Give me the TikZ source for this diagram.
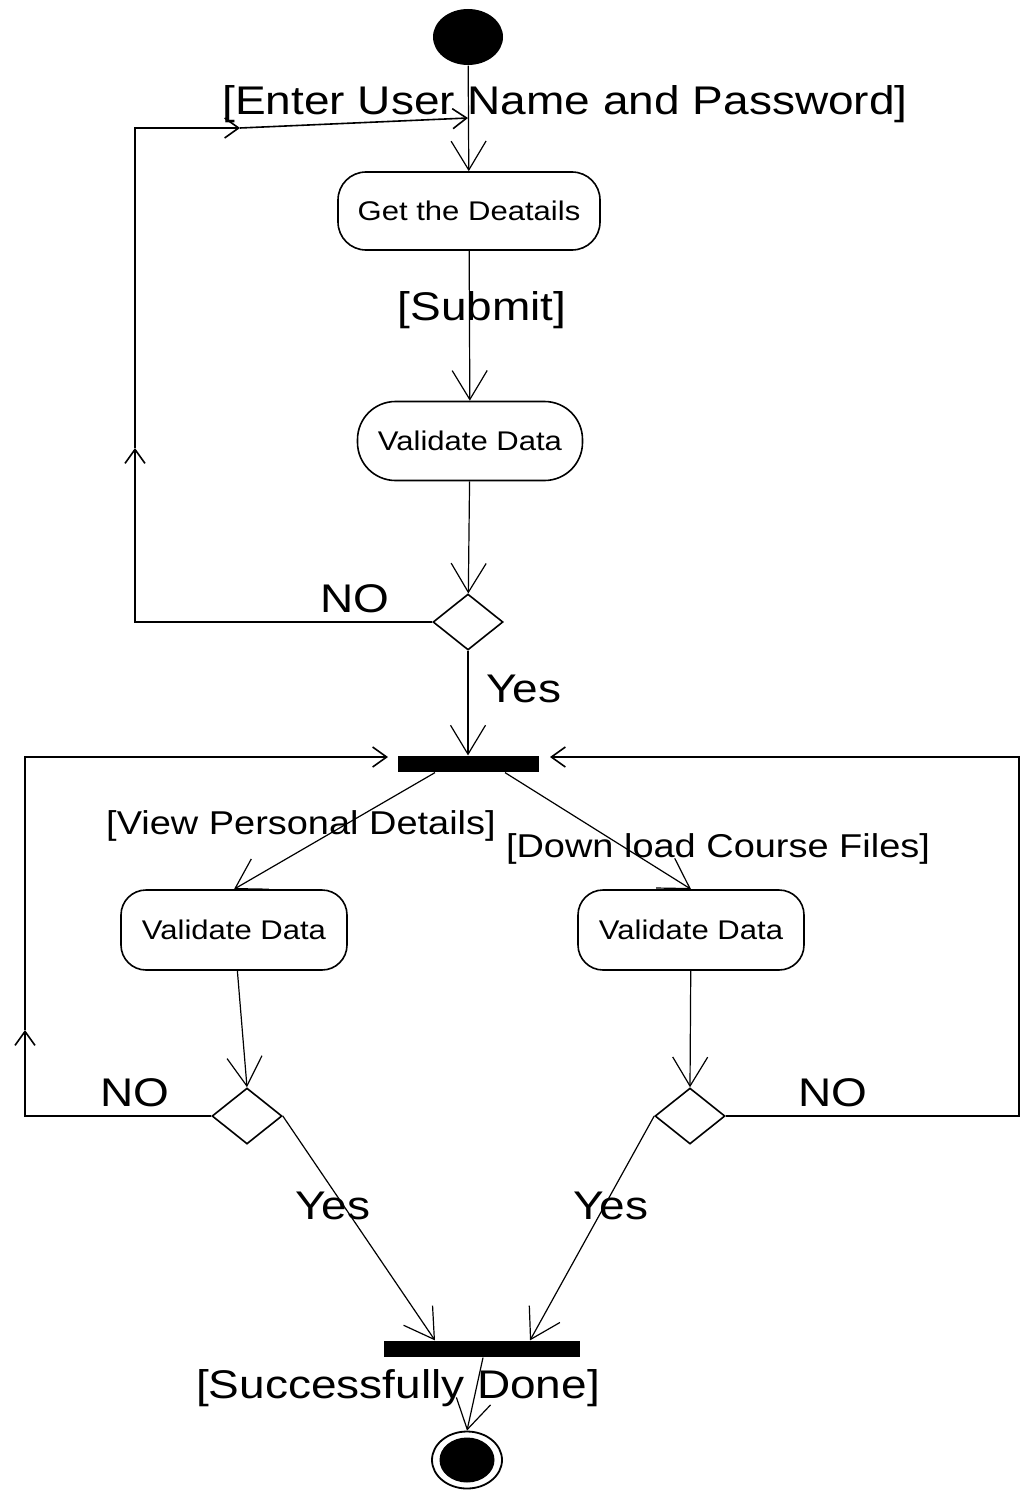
\documentclass[tikz,border=0pt]{standalone}
\usepackage{fontspec}
\setmainfont{Liberation Sans}
\usepackage{graphicx}
\usetikzlibrary{arrows.meta,shapes.geometric}
\newcommand{\wide}[1]{\scalebox{1.15}[1]{#1}}
\tikzset{>={Straight Barb[length=29pt,width=35pt]}}
\tikzset{
  action/.style={draw,line width=1.6pt,rounded corners=28pt,minimum width=262pt,minimum height=78pt,
    inner sep=0pt,font=\fontsize{27}{30}\selectfont},
  decision/.style={draw,diamond,line width=1.6pt,minimum width=70pt,minimum height=56pt,inner sep=0pt},
  bar/.style={fill=black,minimum height=16pt,inner sep=0pt},
  guard/.style={anchor=base,inner sep=0pt,font=\fontsize{40}{44}\selectfont},
  smallguard/.style={anchor=base,inner sep=0pt,font=\fontsize{33}{36}\selectfont},
  back/.style={line width=1.6pt,-{Straight Barb[length=14pt,width=20pt]}}
}

\begin{document}
\begin{tikzpicture}[x=1pt,y=-1pt,line width=1.2pt]
  \useasboundingbox (0,0) rectangle (1020,1490);
  % nodes
  \node[ellipse,fill=black,minimum width=70pt,minimum height=56pt,inner sep=0pt] (init) at (468,37) {};
  \node[action] (details) at (469,211) {\wide{Get the Deatails}};
  \node[action,minimum width=225pt,minimum height=79pt,rounded corners=38pt] (val1) at (470,441) {\wide{Validate Data}};
  \node[decision] (dec1) at (468,622) {};
  \node[bar,minimum width=141pt] (fork) at (468,764) {};
  \node[action,minimum width=226pt,minimum height=80pt,rounded corners=25pt] (val2) at (234,930) {\wide{Validate Data}};
  \node[action,minimum width=226pt,minimum height=80pt,rounded corners=25pt] (val3) at (691,930) {\wide{Validate Data}};
  \node[decision] (dec2) at (247,1116) {};
  \node[decision] (dec3) at (690,1116) {};
  \node[bar,minimum width=196pt] (join) at (482,1349) {};
  \node[draw,ellipse,line width=1.8pt,minimum width=70pt,minimum height=57pt,inner sep=0pt] (final) at (467,1460) {};
  \node[ellipse,fill=black,minimum width=55pt,minimum height=45pt,inner sep=0pt] (finaldot) at (final) {};

  % guards
  \node[guard] (gEnter) at (565,115) {\wide{[Enter User Name and Password]}};
  \node[guard] (gSubmit) at (482,320) {\wide{[Submit]}};
  \node[guard] (gNo1) at (355,612) {\wide{NO}};
  \node[guard] (gYes1) at (524,702) {\wide{Yes}};
  \node[smallguard] (gView) at (301,834) {\wide{[View Personal Details]}};
  \node[smallguard] (gDown) at (718,857) {\wide{[Down load Course Files]}};
  \node[guard] (gNo2) at (135,1106) {\wide{NO}};
  \node[guard] (gNo3) at (833,1106) {\wide{NO}};
  \node[guard] (gYes2) at (333,1219) {\wide{Yes}};
  \node[guard] (gYes3) at (611,1219) {\wide{Yes}};
  \node[guard] (gDone) at (398,1398) {\wide{[Successfully Done]}};

  % flow
  \path[->]
    (init) edge (details)
    (details) edge (val1)
    (val1) edge (dec1)
    (dec1) edge (fork)
    ([xshift=-33pt]fork.south) edge (val2.north)
    ([xshift=37pt]fork.south) edge (val3.north)
    (val2) edge (dec2.north)
    (val3) edge (dec3.north)
    (dec2.east) edge ([xshift=-47pt]join.north)
    (dec3.west) edge ([xshift=48pt]join.north)
    ([xshift=1pt]join.south) edge (final.north);

  % back loops
  \coordinate (l1) at (135,622);
  \coordinate (l2) at (135,448);
  \coordinate (l3) at (135,128);
  \coordinate (l4) at (240,128);
  \coordinate (l5) at (468,118);
  \draw[back] (dec1.west) -- (l1) -- (l2);
  \draw[back] (l2) -- (l3) -- (l4);
  \draw[back] (l4) -- (l5);

  \coordinate (m1) at (25,1116);
  \coordinate (m2) at (25,1030);
  \coordinate (m3) at (25,757);
  \coordinate (m4) at (388,757);
  \draw[back] (dec2.west) -- (m1) -- (m2);
  \draw[back] (m2) -- (m3) -- (m4);

  \coordinate (r1) at (1019,1116);
  \coordinate (r2) at (1019,757);
  \coordinate (r3) at (550,757);
  \draw[back] (dec3.east) -- (r1) -- (r2) -- (r3);
\end{tikzpicture}
\end{document}
